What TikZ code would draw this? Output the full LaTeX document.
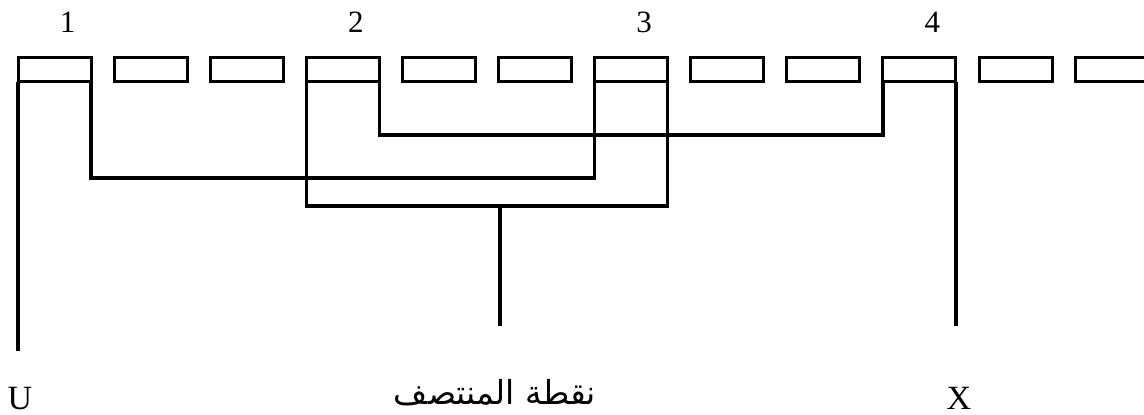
\documentclass[tikz,border=0pt]{standalone}
\usepackage{fontspec}
\setmainfont{Liberation Serif}
\newfontfamily\arabicfont[Script=Arabic]{DejaVu Sans}
\TeXXeTstate=1
\usetikzlibrary{positioning}
\tikzset{
  cell/.style={draw,line width=3pt,minimum width=73pt,minimum height=24pt,inner sep=0pt,outer sep=0pt},
  wire/.style={line width=3.2pt},
  num/.style={font=\fontsize{31}{36}\selectfont,anchor=base,inner sep=0pt},
  endlabel/.style={font=\fontsize{34}{40}\selectfont,anchor=base,inner sep=0pt}
}

\begin{document}
\begin{tikzpicture}[x=1pt,y=-1pt]
\clip (0,0) rectangle (1144,415);
% row of cells
\foreach \i in {1,...,12}
  \node[cell] (c\i) at ({54.5+96.1*(\i-1)},69.5) {};
% numbers over the chosen cells
\foreach \k/\lab in {1/1,4/2,7/3,10/4}
  \path (c\k.north) ++(13,-25) node[num] (lab\lab) {\lab};
% connections
\coordinate (uend) at (c1.south west |- 0,351);
\coordinate (mtop) at (500,206);
\coordinate (mend) at (500,326);
\coordinate (xend) at (c10.south east |- 0,326);
\draw[wire] (c1.south west) -- (uend);
\draw[wire] (c1.south east) -- ++(0,96.5) -| (c7.south west);
\draw[wire] (c4.south west) -- ++(0,124.5) -| (c7.south east);
\draw[wire] (c4.south east) -- ++(0,53.5) -| (c10.south west);
\draw[wire] (mtop) -- (mend);
\draw[wire] (c10.south east) -- (xend);
% end labels
\node[endlabel] (ulab) at (20,409) {U};
\node[endlabel] (xlab) at (959,409) {X};
\node[font=\arabicfont\fontsize{33}{40}\selectfont,anchor=base,inner sep=0pt] (mlab) at (495,404) {\beginR نقطة المنتصف\endR};
\end{tikzpicture}
\end{document}
